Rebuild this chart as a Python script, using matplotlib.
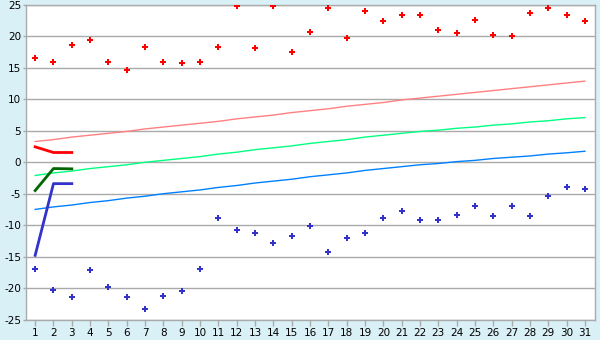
import matplotlib
matplotlib.use("Agg")
import matplotlib.pyplot as plt

plt.rcParams['axes.unicode_minus'] = False

days = list(range(1, 32))

# observed daily maxima / minima (scatter)
t_max = [16.5, 16.0, 18.6, 19.4, 15.9, 14.6, 18.3, 16.0, 15.7, 16.0,
         18.4, 24.8, 18.1, 24.8, 17.5, 20.7, 24.5, 19.7, 24.0, 22.4,
         23.4, 23.4, 21.0, 20.5, 22.6, 20.3, 20.0, 23.8, 24.5, 23.4, 22.4]
t_min = [-16.9, -20.3, -21.5, -17.2, -19.9, -21.4, -23.4, -21.2, -20.4, -16.9,
         -8.8, -10.7, -11.3, -12.9, -11.8, -10.2, -14.2, -12.1, -11.3, -8.9,
         -7.8, -9.2, -9.2, -8.4, -7.0, -8.6, -6.9, -8.6, -5.3, -4.0, -4.3]

# climatic normals
norm_max = [3.3, 3.6, 4.0, 4.3, 4.6, 4.9, 5.3, 5.6, 5.9, 6.2,
            6.5, 6.9, 7.2, 7.5, 7.9, 8.2, 8.5, 8.9, 9.2, 9.5,
            9.9, 10.2, 10.5, 10.8, 11.1, 11.4, 11.7, 12.0, 12.3, 12.6, 12.9]
norm_mean = [-2.1, -1.7, -1.4, -1.0, -0.7, -0.4, 0.0, 0.3, 0.6, 0.9,
             1.3, 1.6, 2.0, 2.3, 2.6, 3.0, 3.3, 3.6, 4.0, 4.3,
             4.6, 4.9, 5.1, 5.4, 5.6, 5.9, 6.1, 6.4, 6.6, 6.9, 7.1]
norm_min = [-7.5, -7.1, -6.8, -6.4, -6.1, -5.7, -5.4, -5.0, -4.7, -4.4,
            -4.0, -3.7, -3.3, -3.0, -2.7, -2.3, -2.0, -1.7, -1.3, -1.0,
            -0.7, -0.4, -0.2, 0.1, 0.3, 0.6, 0.8, 1.0, 1.3, 1.5, 1.75]

# current month so far
cur_days = [1, 2, 3]
cur_max = [2.45, 1.55, 1.55]
cur_mean = [-4.5, -1.0, -1.05]
cur_min = [-14.8, -3.4, -3.4]

yticks = list(range(-25, 30, 5))

bg = '#d9f0f7'
grid_c = '#aaaaaa'

fig = plt.figure(figsize=(6, 3.4), dpi=100, facecolor=bg)
ax = fig.add_axes([26 / 600, 1 - 319.5 / 340, 569 / 600, 314.5 / 340])
ax.set_facecolor('white')

for y in yticks:
    ax.axhline(y, color=grid_c, lw=1, zorder=1)

ax.plot(days, norm_max, color='#ff8080', lw=1, zorder=2)
ax.plot(days, norm_mean, color='#00ff80', lw=1, zorder=2)
ax.plot(days, norm_min, color='#0080ff', lw=1, zorder=2)

ax.plot(cur_days, cur_max, color='#ff0000', lw=2, zorder=3)
ax.plot(cur_days, cur_mean, color='#006600', lw=2, zorder=3)
ax.plot(cur_days, cur_min, color='#3333cc', lw=2, zorder=3)

ax.plot(days, t_max, ls='none', marker='P', ms=4.5, color='#ff0000', mew=0, zorder=4)
ax.plot(days, t_min, ls='none', marker='P', ms=4.5, color='#3333cc', mew=0, zorder=4)

ax.set_xlim(0.5, 31.55)
ax.set_ylim(-25, 25)
ax.set_xticks(days)
ax.set_yticks(yticks)
ax.tick_params(axis='both', colors=grid_c, labelcolor='black', labelsize=7.5,
               length=4, width=1, pad=2)
ax.tick_params(axis='y', length=2, pad=1.5)
for s in ax.spines.values():
    s.set_color(grid_c)
    s.set_linewidth(1)

fig.savefig('out.png', dpi=100, facecolor=bg)
